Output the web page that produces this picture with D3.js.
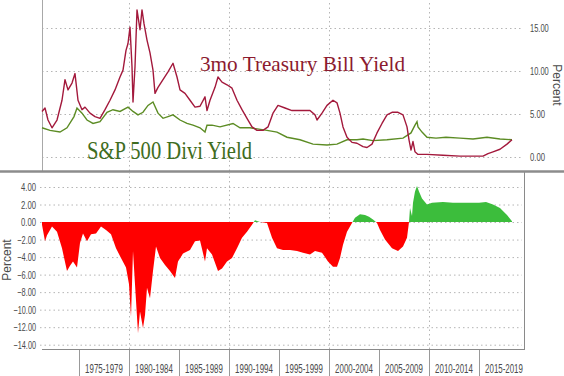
<!DOCTYPE html>
<html>
<head>
<meta charset="utf-8">
<script src="https://cdn.jsdelivr.net/npm/d3@7"></script>
<style>
  body { margin: 0; background: #fff; }
  svg { display: block; }
  .tick-label { font-family: "Liberation Sans", Arial, sans-serif; font-size: 11px; fill: #4a4a4a; }
</style>
</head>
<body>
<div id="chart"></div>
<script>
// 3mo T-bill yield (decimal year, percent)
const billDates = [1971.3, 1971.6, 1971.9, 1972.3, 1972.8, 1973.3, 1973.6, 1973.9, 1974.3, 1974.6, 1974.9, 1975.3, 1975.6, 1976.1, 1976.6, 1977.1, 1977.6, 1978.1, 1978.6, 1979.1, 1979.4, 1979.7, 1979.9, 1980.1, 1980.3, 1980.4, 1980.6, 1980.8, 1981.1, 1981.3, 1981.5, 1981.8, 1982.1, 1982.4, 1982.6, 1982.9, 1983.4, 1983.9, 1984.4, 1984.8, 1985.1, 1985.6, 1986.1, 1986.6, 1987.1, 1987.6, 1987.8, 1988.1, 1988.6, 1988.9, 1989.3, 1989.8, 1990.3, 1990.8, 1991.3, 1991.8, 1992.3, 1992.8, 1993.4, 1993.9, 1994.4, 1994.9, 1995.6, 1996.3, 1997.1, 1998.1, 1998.6, 1998.8, 1999.3, 1999.8, 2000.4, 2000.8, 2001.1, 2001.4, 2001.8, 2002.3, 2002.8, 2003.4, 2003.8, 2004.3, 2004.8, 2005.3, 2005.8, 2006.3, 2006.9, 2007.4, 2007.8, 2008.0, 2008.2, 2008.4, 2008.6, 2008.9, 2009.8, 2011.4, 2013.1, 2015.4, 2015.9, 2016.4, 2017.1, 2017.8, 2018.3];
const billYield = [5.3, 5.7, 4.3, 3.4, 4.3, 6.6, 9.0, 7.8, 8.6, 9.7, 6.6, 5.5, 5.8, 5.1, 4.7, 4.5, 5.5, 6.6, 7.8, 9.3, 10.1, 12.4, 13.2, 15.1, 10.5, 6.4, 10.5, 17.1, 14.8, 17.1, 15.5, 13.6, 12.1, 10.1, 7.4, 8.1, 9.0, 9.9, 10.9, 9.3, 7.8, 7.4, 6.6, 5.8, 5.9, 7.0, 5.4, 6.6, 8.1, 9.3, 8.7, 8.4, 8.0, 6.6, 5.5, 4.5, 3.5, 3.1, 3.1, 3.5, 5.1, 6.0, 5.7, 5.4, 5.4, 5.4, 4.9, 4.3, 5.1, 6.0, 6.6, 6.3, 5.1, 3.5, 2.3, 1.7, 1.6, 1.2, 1.1, 1.5, 2.8, 3.9, 4.9, 5.2, 5.2, 4.9, 3.5, 2.0, 0.8, 1.8, 0.6, 0.3, 0.3, 0.2, 0.1, 0.1, 0.4, 0.6, 0.9, 1.5, 2.0];

// S&P 500 dividend yield
const divDates = [1971.3, 1972.1, 1973.1, 1973.8, 1974.5, 1974.8, 1975.3, 1975.8, 1976.4, 1977.1, 1977.8, 1978.4, 1979.1, 1979.9, 1980.4, 1980.9, 1981.4, 1981.9, 1982.4, 1982.9, 1983.4, 1983.9, 1984.4, 1985.1, 1985.8, 1986.4, 1987.1, 1987.6, 1987.8, 1988.3, 1989.1, 1990.4, 1991.1, 1992.1, 1993.8, 1994.8, 1995.8, 1997.1, 1998.4, 1999.8, 2000.8, 2001.8, 2002.8, 2003.4, 2004.4, 2005.8, 2007.4, 2008.2, 2008.6, 2008.8, 2008.9, 2009.3, 2009.8, 2010.7, 2011.7, 2013.1, 2014.4, 2015.8, 2017.1, 2018.3];
const divYield = [3.4, 3.1, 2.9, 3.4, 4.7, 5.7, 5.1, 4.3, 3.9, 4.1, 5.2, 5.5, 5.3, 5.8, 5.3, 4.9, 5.2, 6.0, 6.4, 5.1, 4.5, 4.7, 4.9, 4.3, 3.9, 3.7, 3.4, 2.9, 3.7, 3.7, 3.5, 3.9, 3.4, 3.4, 3.1, 2.9, 2.3, 2.0, 1.5, 1.4, 1.5, 2.0, 2.0, 2.1, 1.9, 2.0, 2.2, 2.8, 3.7, 4.1, 3.5, 2.9, 2.3, 2.2, 2.3, 2.2, 2.1, 2.3, 2.1, 2.0];

// Divi yield minus T-bill yield (lower panel)
const spreadDates = [1971.3, 1971.6, 1971.8, 1972.3, 1972.8, 1973.3, 1973.8, 1974.1, 1974.4, 1974.8, 1975.1, 1975.4, 1975.8, 1976.2, 1976.7, 1977.2, 1977.7, 1978.2, 1978.7, 1979.2, 1979.7, 1980.0, 1980.2, 1980.4, 1980.6, 1980.9, 1981.1, 1981.4, 1981.6, 1981.8, 1982.1, 1982.4, 1982.7, 1983.1, 1983.6, 1984.1, 1984.6, 1984.9, 1985.4, 1986.1, 1986.6, 1987.1, 1987.6, 1987.8, 1988.3, 1988.9, 1989.3, 1989.8, 1990.3, 1990.8, 1991.3, 1991.8, 1992.3, 1992.6, 1993.1, 1993.8, 1994.3, 1994.8, 1995.4, 1996.1, 1996.8, 1997.4, 1998.1, 1998.6, 1999.3, 1999.9, 2000.4, 2000.8, 2001.1, 2001.4, 2001.8, 2002.3, 2002.6, 2003.1, 2003.6, 2004.0, 2004.4, 2004.8, 2005.1, 2005.6, 2006.3, 2006.9, 2007.4, 2007.8, 2008.0, 2008.1, 2008.3, 2008.4, 2008.6, 2008.8, 2009.0, 2009.3, 2009.8, 2010.3, 2011.4, 2012.4, 2013.7, 2015.0, 2015.7, 2016.4, 2017.1, 2017.8, 2018.3];
const spreadVals = [-0.3, -2.2, -1.5, -0.5, -1.1, -3.0, -5.6, -5.0, -4.5, -5.2, -2.4, -1.3, -2.2, -1.4, -1.3, -0.5, -0.9, -1.4, -3.0, -4.1, -5.2, -7.1, -10.8, -3.3, -7.1, -12.7, -10.2, -12.1, -10.6, -7.5, -8.7, -5.6, -2.8, -4.1, -4.9, -5.6, -6.4, -4.5, -3.6, -3.2, -2.2, -2.1, -4.5, -3.0, -3.7, -5.6, -5.3, -4.5, -4.1, -3.0, -1.8, -1.1, -0.3, 0.2, 0.0, -0.1, -1.8, -3.0, -3.2, -3.2, -3.3, -3.5, -3.7, -3.3, -3.5, -4.5, -5.1, -5.1, -4.1, -2.6, -1.1, -0.1, 0.5, 0.9, 0.8, 0.6, 0.3, -0.1, -0.9, -2.0, -3.0, -3.3, -2.8, -1.8, 0.0, 1.6, 0.7, 2.2, 3.5, 4.1, 3.5, 2.7, 2.0, 2.2, 2.3, 2.2, 2.2, 2.2, 2.3, 2.0, 1.6, 0.8, 0.1];

const topTicks = [0, 5, 10, 15];
const bottomTicks = [4, 2, 0, -2, -4, -6, -8, -10, -12, -14];
const gridYears = [1980, 1990, 2000, 2010];
const periodStarts = [1975, 1980, 1985, 1990, 1995, 2000, 2005, 2010, 2015];
const periodLabels = ['1975-1979', '1980-1984', '1985-1989', '1990-1994', '1995-1999', '2000-2004', '2005-2009', '2010-2014', '2015-2019'];

const w = 564;
const h = 376;

// Scales
const x = d3.scaleLinear().domain([1971.3, 2019.5]).range([42, 524]);
const yTop = d3.scaleLinear().domain([0, 15]).range([157, 28]);
const yBot = d3.scaleLinear().domain([-14, 4]).range([344.7, 187]);

const svg = d3.select('#chart')
  .append('svg')
  .attr('width', w)
  .attr('height', h)
  .attr('viewBox', `0 0 ${w} ${h}`);

svg.append('rect').attr('width', w).attr('height', h).attr('fill', '#fff');

const styleGrid = (g) => {
  g.select('.domain').remove();
  g.selectAll('.tick line')
    .attr('stroke', '#b5b5b5')
    .attr('stroke-width', 1)
    .attr('stroke-dasharray', '1.5,3');
};

// narrow the axis numbers, the source uses a condensed face
const narrowLabels = (g) => {
  g.select('.domain').remove();
  g.selectAll('text')
    .attr('class', 'tick-label')
    .attr('font-family', null)
    .attr('font-size', null)
    .attr('fill', null)
    .attr('textLength', function () { return this.textContent.length * 3.75; })
    .attr('lengthAdjust', 'spacingAndGlyphs');
};

// ---- top panel ----
svg.append('g')
  .attr('transform', 'translate(42,0)')
  .call(d3.axisLeft(yTop).tickValues(topTicks).tickSize(-480).tickFormat(''))
  .call(styleGrid);

svg.append('g')
  .attr('transform', 'translate(0,171)')
  .call(d3.axisBottom(x).tickValues(gridYears).tickSize(-171).tickFormat(''))
  .call(styleGrid);

// right axis labels
svg.append('g')
  .attr('transform', 'translate(526,0)')
  .call(d3.axisRight(yTop).tickValues(topTicks).tickSize(0).tickPadding(4).tickFormat(d3.format('.2f')))
  .call(narrowLabels);

svg.append('text')
  .attr('class', 'tick-label')
  .attr('transform', 'translate(553,85) rotate(90)')
  .attr('text-anchor', 'middle')
  .style('font-size', '12px')
  .text('Percent');

// left border of top panel
svg.append('line')
  .attr('x1', 42.5).attr('x2', 42.5).attr('y1', 0).attr('y2', 171)
  .attr('stroke', '#a8a8a8');

const lineTop = d3.line()
  .x(d => x(d[0]))
  .y(d => yTop(d[1]));

svg.append('path')
  .datum(d3.zip(divDates, divYield))
  .attr('fill', 'none')
  .attr('stroke', '#5c8c24')
  .attr('stroke-width', 1.4)
  .attr('d', lineTop);

svg.append('path')
  .datum(d3.zip(billDates, billYield))
  .attr('fill', 'none')
  .attr('stroke', '#a3193c')
  .attr('stroke-width', 1.4)
  .attr('stroke-linejoin', 'round')
  .attr('d', lineTop);

svg.append('text')
  .attr('x', 200).attr('y', 70.5)
  .attr('font-family', '"Liberation Serif", "Times New Roman", serif')
  .attr('font-size', 22)
  .attr('fill', '#8c1b2f')
  .attr('textLength', 205)
  .attr('lengthAdjust', 'spacingAndGlyphs')
  .text('3mo Treasury Bill Yield');

svg.append('text')
  .attr('x', 87).attr('y', 159)
  .attr('font-family', '"Liberation Serif", "Times New Roman", serif')
  .attr('font-size', 25)
  .attr('fill', '#3f6d21')
  .attr('textLength', 165)
  .attr('lengthAdjust', 'spacingAndGlyphs')
  .text('S&P 500 Divi Yield');

// ---- bottom panel ----
svg.append('g')
  .attr('transform', 'translate(40,0)')
  .call(d3.axisLeft(yBot).tickValues(bottomTicks).tickSize(-482).tickFormat(''))
  .call(styleGrid);

svg.append('g')
  .attr('transform', 'translate(0,349)')
  .call(d3.axisBottom(x).tickValues(gridYears).tickSize(-176).tickFormat(''))
  .call(styleGrid);

svg.append('g')
  .attr('transform', 'translate(40,0)')
  .call(d3.axisLeft(yBot).tickValues(bottomTicks).tickSize(0).tickPadding(4).tickFormat(d3.format('.2f')))
  .call(narrowLabels);

svg.append('text')
  .attr('class', 'tick-label')
  .attr('transform', 'translate(11,260) rotate(-90)')
  .attr('text-anchor', 'middle')
  .style('font-size', '12px')
  .text('Percent');

const defs = svg.append('defs');
defs.append('clipPath').attr('id', 'clip-pos')
  .append('rect')
  .attr('x', 0).attr('width', w)
  .attr('y', 172).attr('height', yBot(0) - 172);
defs.append('clipPath').attr('id', 'clip-neg')
  .append('rect')
  .attr('x', 0).attr('width', w)
  .attr('y', yBot(0)).attr('height', 349 - yBot(0));

const spreadArea = d3.area()
  .x(d => x(d[0]))
  .y0(yBot(0))
  .y1(d => yBot(d[1]));

const spreadData = d3.zip(spreadDates, spreadVals);

svg.append('path')
  .datum(spreadData)
  .attr('clip-path', 'url(#clip-neg)')
  .attr('fill', '#ff0000')
  .attr('d', spreadArea);

svg.append('path')
  .datum(spreadData)
  .attr('clip-path', 'url(#clip-pos)')
  .attr('fill', '#3cbd3c')
  .attr('d', spreadArea);

// frame of bottom panel
svg.append('line')
  .attr('x1', 524.5).attr('x2', 524.5).attr('y1', 172).attr('y2', 349)
  .attr('stroke', '#8a8a8a');

const periodAxis = svg.append('g')
  .attr('transform', 'translate(0,349)')
  .call(d3.axisBottom(x).tickValues(periodStarts).tickSize(27).tickFormat(''));
periodAxis.select('.domain').remove();
periodAxis.selectAll('.tick line').attr('stroke', '#999');

svg.append('line')
  .attr('x1', 42).attr('x2', 525).attr('y1', 349.5).attr('y2', 349.5)
  .attr('stroke', '#8a8a8a');

// period labels, squeezed horizontally to fit each 5-year slot
svg.append('g')
  .selectAll('text')
  .data(periodStarts)
  .join('text')
  .attr('class', 'tick-label')
  .attr('transform', d => `translate(${x(d + 2.5)},373) scale(0.66,1)`)
  .attr('text-anchor', 'middle')
  .style('font-size', '12px')
  .text((d, i) => periodLabels[i]);

// separator between panels
svg.append('line')
  .attr('x1', 0).attr('x2', w).attr('y1', 171.5).attr('y2', 171.5)
  .attr('stroke', '#8c8c8c')
  .attr('stroke-width', 2.5);
</script>
</body>
</html>
